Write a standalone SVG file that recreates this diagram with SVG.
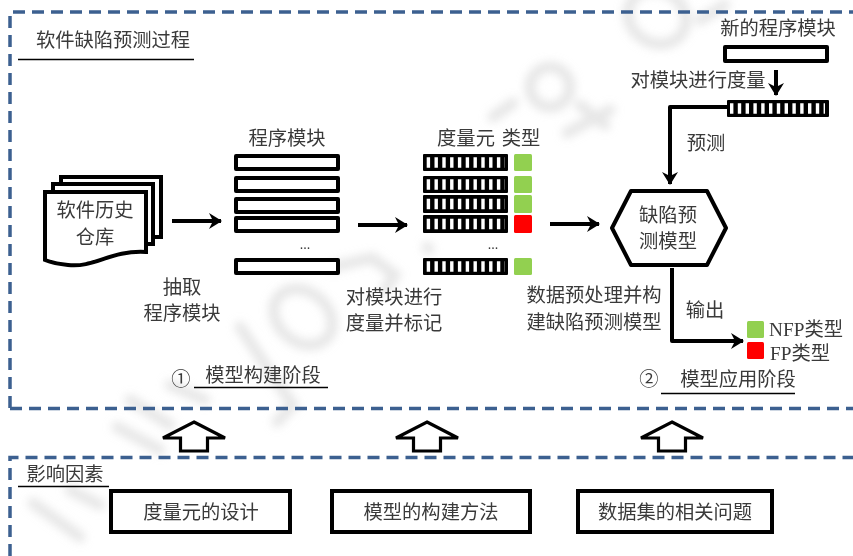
<svg xmlns="http://www.w3.org/2000/svg" width="853" height="556" viewBox="0 0 853 556">
<style>
text{font-family:"Liberation Serif","Noto Sans CJK SC",serif;font-size:19.300px;fill:#3a3a3a;text-anchor:middle}
.d{fill:none;stroke:#3c6090;stroke-width:3.500;stroke-dasharray:12 7}
.m{fill:#fff;stroke:#000;stroke-width:4;stroke-linejoin:round}
.b{fill:#000;stroke:#000;stroke-width:2;stroke-linejoin:round}
.s{fill:none;stroke:#fff;stroke-width:10.500;stroke-dasharray:3.400 4.400}
.c{fill:none;stroke:#000;stroke-width:4;stroke-linejoin:round;marker-end:url(#a)}
.u{stroke:#000;stroke-width:1.300;fill:none}
.g{fill:#92d050}.r{fill:#f00}
.f{fill:#fff;stroke:#000;stroke-width:4}
.w{fill:none;stroke:#cfcfcf;stroke-width:11;stroke-linecap:round;opacity:.5}
</style>
<defs>
<marker id="a" markerUnits="userSpaceOnUse" markerWidth="18" markerHeight="18" refX="14" refY="8" orient="auto"><path d="M2 0L15 8L2 16L6 8Z" fill="#000"/></marker>
<filter id="bl" x="-10%" y="-10%" width="120%" height="120%"><feGaussianBlur stdDeviation="4.500"/></filter>
<path id="up" d="M0 0L31 16H13.500V29H-13.500V16H-31Z" fill="#fff" stroke="#000" stroke-width="3.200" stroke-linejoin="miter"/>
</defs>
<rect width="853" height="556" fill="#fff"/>
<g id="watermark" filter="url(#bl)">
<path class="w" d="M33 503L80 537M70 490L100 505M117 427L160 450M130 400L170 425M170 385L205 400"/>
<path class="w" d="M240 327L272 375L293 405L277 422"/>
<ellipse class="w" cx="303" cy="317" rx="32" ry="25" transform="rotate(40 303 317)"/>
<path class="w" d="M333 267L372 258L395 275L385 290"/>
<path class="w" d="M427 247L429 249"/>
<path class="w" d="M493 117L513 103"/>
<circle class="w" cx="550" cy="87" r="20"/>
<path class="w" d="M567 133L610 110M580 105L605 125"/>
<ellipse class="w" cx="657" cy="17" rx="30" ry="26" transform="rotate(30 657 17)"/>
<path class="w" d="M700 20L725 5"/>
</g>
<g id="frames">
<path class="d" d="M10 408V12H853"/><path class="d" d="M10 408.500H853"/>
<path class="d" d="M10 556V457.500H853"/>
</g>
<g id="title"><text x="113" y="47">软件缺陷预测过程</text><path class="u" d="M18 59.500H194"/></g>
<g id="repo">
<rect class="f" x="61" y="177" width="100" height="60"/>
<rect class="f" x="53" y="184" width="100" height="60"/>
<path class="f" d="M45 192H146V252C110 250 95 268 68 265C58 264 50 262 45 260Z"/>
<text x="95" y="217">软件历史</text><text x="95" y="244">仓库</text>
</g>
<g id="modules">
<text x="287" y="145">程序模块</text>
<rect class="m" x="236" y="156" width="102" height="13"/>
<rect class="m" x="236" y="178" width="102" height="13"/>
<rect class="m" x="236" y="199" width="102" height="13"/>
<rect class="m" x="236" y="218" width="102" height="13"/>
<rect class="m" x="236" y="260" width="102" height="13"/>
<text x="305" y="249" style="font-size:14px">...</text>
</g>
<g id="metrics">
<text x="466" y="145">度量元</text><text x="521" y="145">类型</text>
<g id="bars">
<rect class="b" x="424" y="155" width="83" height="15"/><path class="s" d="M426.700 162.500H505"/>
<rect class="b" x="424" y="177" width="83" height="15"/><path class="s" d="M426.700 184.500H505"/>
<rect class="b" x="424" y="196" width="83" height="16"/><path class="s" d="M426.700 204H505"/>
<rect class="b" x="424" y="216" width="83" height="16"/><path class="s" d="M426.700 224H505"/>
<rect class="b" x="424" y="259" width="83" height="15"/><path class="s" d="M426.700 266.500H505"/>
</g>
<rect class="g" x="514" y="154" width="18" height="17" rx="1.500"/>
<rect class="g" x="514" y="176" width="18" height="17" rx="1.500"/>
<rect class="g" x="514" y="195" width="18" height="18" rx="1.500"/>
<rect class="r" x="514" y="215" width="18" height="18" rx="1.500"/>
<rect class="g" x="514" y="258" width="18" height="17" rx="1.500"/>
<text x="493" y="249" style="font-size:14px">...</text>
</g>
<g id="new-module">
<text x="778" y="35">新的程序模块</text>
<rect class="m" x="725" y="47" width="102" height="14"/>
<text x="698" y="87">对模块进行度量</text>
<rect class="b" x="728" y="101" width="100" height="15"/><path class="s" d="M730 108.500H825"/>
</g>
<g id="model">
<path fill="#fff" stroke="#000" stroke-width="4" stroke-linejoin="round" d="M612 228L631 191H707L726 228L707 265H631Z"/>
<text x="668" y="222">缺陷预</text><text x="668" y="248">测模型</text>
</g>
<g id="connectors">
<path class="c" d="M172 221H221"/>
<path class="c" d="M358 225H407"/>
<path class="c" d="M550 224H599"/>
<path class="c" d="M776 70V95"/>
<path class="c" d="M727 107H670V184"/>
<path class="c" d="M672 268V341H743"/>
<use href="#up" x="194" y="422"/><use href="#up" x="427" y="422"/><use href="#up" x="672" y="422"/>
</g>
<g id="labels">
<text x="182" y="294">抽取</text><text x="182" y="320">程序模块</text>
<text x="394" y="304">对模块进行</text><text x="394" y="330">度量并标记</text>
<text x="594" y="302">数据预处理并构</text><text x="594" y="329">建缺陷预测模型</text>
<text x="706" y="150">预测</text><text x="705" y="317">输出</text>
</g>
<g id="legend">
<rect class="g" x="747" y="321" width="17" height="17" rx="1.500"/>
<rect class="r" x="747" y="342" width="17" height="17" rx="1.500"/>
<text x="806" y="336">NFP类型</text><text x="800" y="360">FP类型</text>
</g>
<g id="stages">
<text x="181" y="386">①</text><text x="263" y="382">模型构建阶段</text><path class="u" d="M194 387.500H328"/>
<text x="649" y="386">②</text><text x="738" y="386">模型应用阶段</text><path class="u" d="M661 393.500H795"/>
</g>
<g id="factors">
<text x="65" y="481">影响因素</text><path class="u" d="M18 486.500H109"/>
<rect class="f" x="111" y="491" width="179" height="41"/><text x="201" y="519">度量元的设计</text>
<rect class="f" x="332" y="491" width="198" height="41"/><text x="431" y="519">模型的构建方法</text>
<rect class="f" x="578" y="491" width="194" height="41"/><text x="675" y="519">数据集的相关问题</text>
</g>
</svg>
